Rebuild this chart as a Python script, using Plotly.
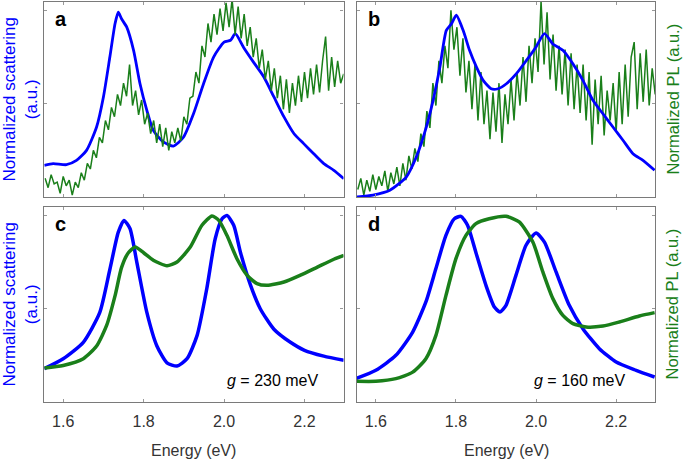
import plotly.graph_objects as go

# ---------------- data ----------------
X_TICKS = [1.6, 1.8, 2.0, 2.2]
X_TICK_LABELS = ["1.6", "1.8", "2.0", "2.2"]

# panel a: measured scattering (blue)
a_scat_E = [1.553, 1.575, 1.608, 1.633, 1.658, 1.683, 1.700, 1.716, 1.729, 1.737, 1.745,
            1.758, 1.775, 1.791, 1.808, 1.824, 1.849, 1.874, 1.899, 1.924, 1.949, 1.974,
            2.000, 2.016, 2.028, 2.049, 2.074, 2.099, 2.124, 2.149, 2.174, 2.198, 2.223,
            2.248, 2.273, 2.298]
a_scat_v = [0.170, 0.179, 0.173, 0.196, 0.250, 0.375, 0.536, 0.750, 0.930, 0.990, 0.955,
            0.910, 0.786, 0.607, 0.464, 0.357, 0.295, 0.273, 0.320, 0.446, 0.607, 0.750,
            0.830, 0.840, 0.875, 0.800, 0.720, 0.643, 0.536, 0.429, 0.339, 0.286, 0.232,
            0.179, 0.143, 0.098]

# measured PL energy grid (eV), 100 samples
PL_E = [round(1.555 + 0.0075 * i, 4) for i in range(100)]

# panel a: measured PL (green)
a_pl_v = [0.10, 0.05, 0.12, 0.07, 0.08, 0.02, 0.11, 0.06, 0.09, 0.01,
          0.08, 0.05, 0.13, 0.09, 0.18, 0.15, 0.25, 0.21, 0.32, 0.29,
          0.41, 0.36, 0.48, 0.43, 0.55, 0.49, 0.61, 0.54, 0.71, 0.49,
          0.57, 0.44, 0.52, 0.39, 0.45, 0.34, 0.41, 0.29, 0.39, 0.27,
          0.37, 0.25, 0.35, 0.29, 0.37, 0.30, 0.43, 0.39, 0.53, 0.54,
          0.67, 0.61, 0.81, 0.75, 0.93, 0.83, 0.98, 0.87, 1.01, 0.89,
          1.04, 0.91, 1.06, 0.87, 1.02, 0.85, 0.98, 0.81, 0.91, 0.75,
          0.85, 0.69, 0.79, 0.63, 0.73, 0.57, 0.69, 0.53, 0.65, 0.47,
          0.63, 0.45, 0.61, 0.49, 0.65, 0.51, 0.67, 0.53, 0.69, 0.55,
          0.71, 0.56, 0.73, 0.86, 0.57, 0.75, 0.59, 0.73, 0.61, 0.66]

# panel b: measured scattering (blue)
b_scat_E = [1.552, 1.593, 1.635, 1.676, 1.701, 1.726, 1.743, 1.760, 1.776, 1.789, 1.801,
            1.818, 1.834, 1.851, 1.868, 1.888, 1.905, 1.926, 1.951, 1.976, 2.000, 2.021,
            2.042, 2.067, 2.092, 2.117, 2.142, 2.167, 2.192, 2.217, 2.242, 2.267, 2.296]
b_scat_v = [0.000, 0.010, 0.036, 0.107, 0.214, 0.375, 0.518, 0.697, 0.893, 0.929, 0.974,
            0.893, 0.786, 0.697, 0.625, 0.580, 0.580, 0.607, 0.661, 0.732, 0.804, 0.875,
            0.820, 0.786, 0.714, 0.625, 0.518, 0.446, 0.375, 0.304, 0.232, 0.196, 0.143]

# panel b: measured PL (green)
b_pl_v = [0.04, 0.10, 0.01, 0.09, 0.03, 0.12, 0.04, 0.11, 0.06, 0.14,
          0.03, 0.13, 0.07, 0.16, 0.06, 0.18, 0.09, 0.22, 0.15, 0.26,
          0.19, 0.34, 0.27, 0.46, 0.37, 0.61, 0.49, 0.73, 0.61, 0.81,
          0.69, 1.00, 0.79, 0.91, 0.65, 0.85, 0.56, 0.73, 0.47, 0.71,
          0.41, 0.67, 0.39, 0.57, 0.31, 0.56, 0.35, 0.61, 0.29, 0.55,
          0.39, 0.63, 0.41, 0.67, 0.49, 0.75, 0.51, 0.81, 0.61, 0.85,
          0.67, 1.05, 0.71, 0.99, 0.63, 0.87, 0.57, 0.81, 0.55, 0.79,
          0.49, 0.77, 0.47, 0.71, 0.45, 0.71, 0.41, 0.67, 0.28, 0.63,
          0.39, 0.65, 0.33, 0.57, 0.41, 0.61, 0.35, 0.67, 0.39, 0.71,
          0.43, 0.75, 0.83, 0.47, 0.77, 0.51, 0.79, 0.49, 0.69, 0.55]

# panel c: model, g = 230 meV
c_scat_E = [1.553, 1.600, 1.650, 1.691, 1.716, 1.737, 1.751, 1.766, 1.783, 1.808, 1.833,
            1.858, 1.883, 1.908, 1.933, 1.957, 1.978, 1.995, 2.007, 2.024, 2.041, 2.066,
            2.090, 2.124, 2.165, 2.200, 2.248, 2.298]
c_scat_v = [0.179, 0.232, 0.320, 0.480, 0.710, 0.910, 0.973, 0.930, 0.750, 0.480, 0.300,
            0.210, 0.193, 0.232, 0.357, 0.607, 0.875, 0.982, 1.000, 0.947, 0.800, 0.625,
            0.500, 0.390, 0.320, 0.277, 0.246, 0.223]
c_pl_E = [1.553, 1.600, 1.650, 1.683, 1.708, 1.729, 1.745, 1.762, 1.779, 1.800, 1.824,
          1.858, 1.883, 1.916, 1.945, 1.970, 1.987, 2.007, 2.032, 2.057, 2.082, 2.107,
          2.149, 2.190, 2.232, 2.273, 2.298]
c_pl_v = [0.182, 0.196, 0.232, 0.300, 0.410, 0.570, 0.720, 0.800, 0.830, 0.800, 0.760,
          0.730, 0.750, 0.830, 0.947, 0.997, 0.973, 0.893, 0.768, 0.680, 0.634, 0.625,
          0.643, 0.680, 0.723, 0.765, 0.786]

# panel d: model, g = 160 meV
d_scat_E = [1.550, 1.600, 1.650, 1.692, 1.725, 1.750, 1.775, 1.796, 1.8125, 1.829, 1.850,
            1.875, 1.896, 1.910, 1.925, 1.950, 1.975, 2.000, 2.021, 2.050, 2.083, 2.117,
            2.158, 2.200, 2.250, 2.296]
d_scat_v = [0.125, 0.170, 0.250, 0.375, 0.536, 0.715, 0.893, 0.982, 0.995, 0.947, 0.800,
            0.625, 0.509, 0.482, 0.518, 0.680, 0.840, 0.906, 0.857, 0.697, 0.518, 0.393,
            0.286, 0.214, 0.170, 0.134]
d_pl_E = [1.550, 1.600, 1.650, 1.692, 1.725, 1.750, 1.775, 1.800, 1.825, 1.850, 1.883,
          1.925, 1.958, 1.992, 2.017, 2.042, 2.067, 2.092, 2.125, 2.167, 2.208, 2.258, 2.296]
d_pl_v = [0.111, 0.111, 0.125, 0.160, 0.232, 0.357, 0.570, 0.768, 0.893, 0.956, 0.982,
          0.995, 0.965, 0.857, 0.697, 0.554, 0.464, 0.420, 0.402, 0.407, 0.429, 0.461, 0.479]

PANEL_LABELS = ["a", "b", "c", "d"]
G_LABELS = ["<i>g</i> = 230 meV", "<i>g</i> = 160 meV"]
Y_TITLE_LEFT = "Normalized scattering<br>(a.u.)"
Y_TITLE_RIGHT = "Normalized PL (a.u.)"
X_TITLE = "Energy (eV)"

# ---------------- styling ----------------
BLUE = "#0000ff"
GREEN = "#1a7f1a"
FRAME = "#7a7a7a"
FONT = "Liberation Sans, Arial, sans-serif"
W, H = 685, 460

XL = [44.3 / W, 343.5 / W]
XR = [357 / W, 655 / W]
YT = [1 - 197 / H, 1 - 2 / H]
YB = [1 - 402 / H, 1 - 207 / H]

fig = go.Figure()

def add(x, y, color, width, ax, shape):
    fig.add_trace(go.Scatter(x=x, y=y, mode="lines",
                             line=dict(color=color, width=width, shape=shape),
                             xaxis="x" + ax, yaxis="y" + ax, showlegend=False,
                             hoverinfo="skip"))

# panel a
add(a_scat_E, a_scat_v, BLUE, 2.8, "", "spline")
add(PL_E, a_pl_v, GREEN, 1.5, "", "linear")
# panel b
add(PL_E, b_pl_v, GREEN, 1.5, "2", "linear")
add(b_scat_E, b_scat_v, BLUE, 2.8, "2", "spline")
# panel c
add(c_scat_E, c_scat_v, BLUE, 3.5, "3", "spline")
add(c_pl_E, c_pl_v, GREEN, 3.5, "3", "spline")
# panel d
add(d_scat_E, d_scat_v, BLUE, 3.5, "4", "spline")
add(d_pl_E, d_pl_v, GREEN, 3.5, "4", "spline")

for t in fig.data:
    if t.line.shape == "spline":
        t.line.smoothing = 0.6

def xaxis(domain, anchor, show_labels):
    return dict(domain=domain, anchor=anchor, range=[1.553, 2.297],
                tickvals=X_TICKS, ticktext=X_TICK_LABELS, showticklabels=show_labels,
                ticks="inside", ticklen=3, tickcolor="#999999", mirror="ticks",
                showline=True, linecolor=FRAME, linewidth=1.2, showgrid=False,
                zeroline=False, ticklabelstandoff=5,
                tickfont=dict(size=16, color="#333333", family=FONT))

def yaxis(domain, anchor):
    return dict(domain=domain, anchor=anchor, range=[0, 1.045], tickvals=[0, 0.5, 1],
                showticklabels=False, ticks="inside", ticklen=3, tickcolor="#999999",
                mirror="ticks", showline=True, linecolor=FRAME, linewidth=1.2,
                showgrid=False, zeroline=False)

fig.update_layout(
    width=W, height=H, margin=dict(l=0, r=0, t=0, b=0),
    paper_bgcolor="white", plot_bgcolor="white",
    font=dict(family=FONT),
    xaxis=xaxis(XL, "y", False), yaxis=yaxis(YT, "x"),
    xaxis2=xaxis(XR, "y2", False), yaxis2=yaxis(YT, "x2"),
    xaxis3=xaxis(XL, "y3", True), yaxis3=yaxis(YB, "x3"),
    xaxis4=xaxis(XR, "y4", True), yaxis4=yaxis(YB, "x4"),
)

ann = []
# panel letters
for lab, x0, y1 in zip(PANEL_LABELS, [XL[0], XR[0], XL[0], XR[0]], [YT[1], YT[1], YB[1], YB[1]]):
    ann.append(dict(text="<b>" + lab + "</b>", x=x0 + 9 / W, y=y1 - 4 / H, xref="paper",
                    yref="paper", xanchor="left", yanchor="top", showarrow=False,
                    font=dict(size=20, color="black", family=FONT)))
# g labels
ann.append(dict(text=G_LABELS[0], x=321 / W, y=1 - 380 / H, xref="paper", yref="paper",
                xanchor="right", yanchor="middle", showarrow=False,
                font=dict(size=16, color="black", family=FONT)))
ann.append(dict(text=G_LABELS[1], x=628 / W, y=1 - 380 / H, xref="paper", yref="paper",
                xanchor="right", yanchor="middle", showarrow=False,
                font=dict(size=16, color="black", family=FONT)))
# y titles
for yc in [(YT[0] + YT[1]) / 2, (YB[0] + YB[1]) / 2]:
    ann.append(dict(text=Y_TITLE_LEFT, x=20 / W, y=yc, xref="paper", yref="paper",
                    textangle=-90, showarrow=False, xanchor="center", yanchor="middle",
                    font=dict(size=17, color=BLUE, family=FONT)))
    ann.append(dict(text=Y_TITLE_RIGHT, x=672 / W, y=yc, xref="paper", yref="paper",
                    textangle=-90, showarrow=False, xanchor="center", yanchor="middle",
                    font=dict(size=16.5, color=GREEN, family=FONT)))
# x titles
for xc in [(XL[0] + XL[1]) / 2, (XR[0] + XR[1]) / 2]:
    ann.append(dict(text=X_TITLE, x=xc, y=1 - 450 / H, xref="paper", yref="paper",
                    showarrow=False, xanchor="center", yanchor="middle",
                    font=dict(size=16, color="#333333", family=FONT)))
fig.update_layout(annotations=ann)

fig.write_html("out.html", config={"displayModeBar": False},
               post_script="document.body.style.margin='0';document.body.style.overflow='hidden';")
